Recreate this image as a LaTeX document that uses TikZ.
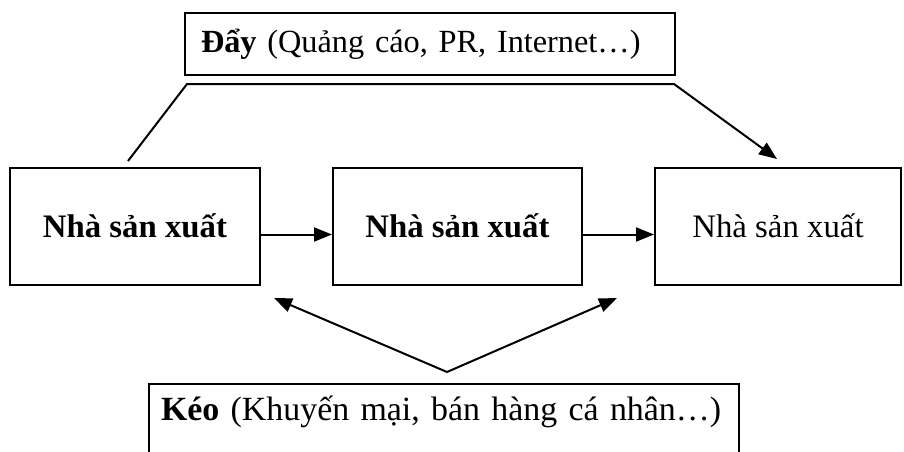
\documentclass[tikz,border=0pt]{standalone}
\usepackage{fontspec}
\setmainfont{Liberation Serif}
\usetikzlibrary{arrows.meta}
\begin{document}
\begin{tikzpicture}[x=1pt,y=-1pt,line width=2pt,
  box/.style={draw,line width=2pt,minimum height=117pt,inner sep=0pt,
    text height=24pt,text depth=2pt,
    font=\fontsize{32.8}{38}\selectfont\bfseries},
  txtbox/.style={draw,line width=2pt,anchor=north west,align=left},
  arr/.style={-{Triangle[length=18pt,width=14pt]},line width=2pt}]
\clip (0,0) rectangle (904,452);
\fill[white] (0,0) rectangle (904,452);
% producer boxes
\node[box,minimum width=250pt] (box1) at (135,226.5) {Nhà sản xuất};
\node[box,minimum width=249pt] (box2) at (457.5,226.5) {Nhà sản xuất};
\node[box,minimum width=246pt,font=\fontsize{32.8}{38}\selectfont] (box3) at (778,226.5) {Nhà sản xuất};
% push box
\node[txtbox,text width=458pt,inner xsep=16pt,inner ysep=0pt,minimum height=62pt,
  font=\fontsize{32.3}{38}\selectfont]
  (push) at (184,12) {\textbf{Đẩy} (Quảng cáo, PR, Internet…)};
% pull box (open at the bottom edge of the picture)
\node[txtbox,text width=566pt,inner xsep=12pt,inner ysep=0pt,
  text height=21pt,text depth=56pt,minimum height=107pt,
  font=\fontsize{33.9}{40}\selectfont]
  (pull) at (148,383) {\textbf{Kéo} (Khuyến mại, bán hàng cá nhân…)};
% push connector
\coordinate (p1) at ([xshift=3pt,yshift=-8pt]push.south west);
\coordinate (p2) at ([xshift=-2pt,yshift=-8pt]push.south east);
\draw[arr] ([xshift=-7pt,yshift=6pt]box1.north) -- (p1) -- (p2)
  -- ([xshift=-1pt,yshift=8pt]box3.north);
% flow arrows
\draw[arr] ([yshift=-8pt]box1.east) -- ([yshift=-8pt]box2.west);
\draw[arr] ([yshift=-8pt]box2.east) -- ([yshift=-8pt]box3.west);
% pull connectors
\coordinate (apex) at ([xshift=3pt,yshift=11pt]pull.north);
\draw[arr] (apex) -- ([xshift=13pt,yshift=-12pt]box1.south east);
\draw[arr] (apex) -- ([xshift=-37pt,yshift=-12pt]box3.south west);
\end{tikzpicture}
\end{document}
